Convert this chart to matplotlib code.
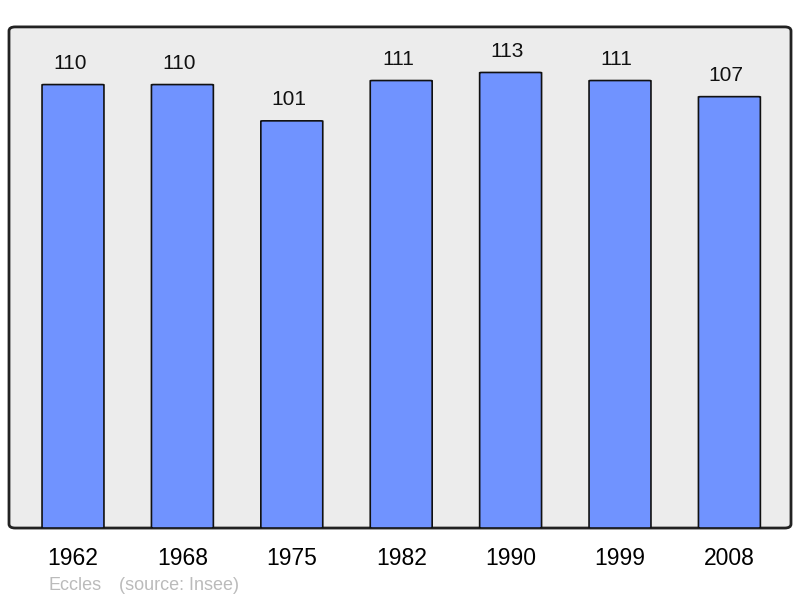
import matplotlib.pyplot as plt
from matplotlib.patches import FancyBboxPatch

years = ['1962', '1968', '1975', '1982', '1990', '1999', '2008']
population = [110, 110, 101, 111, 113, 111, 107]

plt.rcParams['font.family'] = ['Liberation Sans', 'DejaVu Sans']

fig = plt.figure(figsize=(8, 5.98), dpi=100)
ax = fig.add_axes([0.01125, 0.117, 0.9775, 0.838])
ax.set_facecolor('none')

# rounded frame behind everything
frame = FancyBboxPatch((0, 0), 1, 1, boxstyle='round,pad=0,rounding_size=0.008',
                       transform=ax.transAxes, facecolor='#ececec', edgecolor='#222222',
                       linewidth=2, zorder=0, clip_on=False)
ax.add_patch(frame)

x = list(range(len(years)))
for xi, v in zip(x, population):
    bar = FancyBboxPatch((xi - 0.283, 0), 0.566, v,
                         boxstyle='round,pad=0,rounding_size=0.02',
                         mutation_aspect=4,
                         facecolor='#7093ff', edgecolor='#111111', linewidth=1.2, zorder=2)
    ax.add_patch(bar)
    ax.text(xi - 0.03, v + 2.9, str(v), ha='center', va='bottom', fontsize=15, color='#111111')

ax.set_xlim(-0.585, 6.563)
ax.set_ylim(0, 124.3)
for s in ax.spines.values():
    s.set_visible(False)
ax.set_yticks([])
ax.set_xticks(x)
ax.set_xticklabels(years, fontsize=16.5)
ax.tick_params(axis='x', length=0, pad=14)

fig.text(0.06, 0.013, 'Eccles', fontsize=13, color='#bbbbbb')
fig.text(0.149, 0.013, '(source: Insee)', fontsize=13, color='#bbbbbb')

fig.savefig('out.png', dpi=100)
